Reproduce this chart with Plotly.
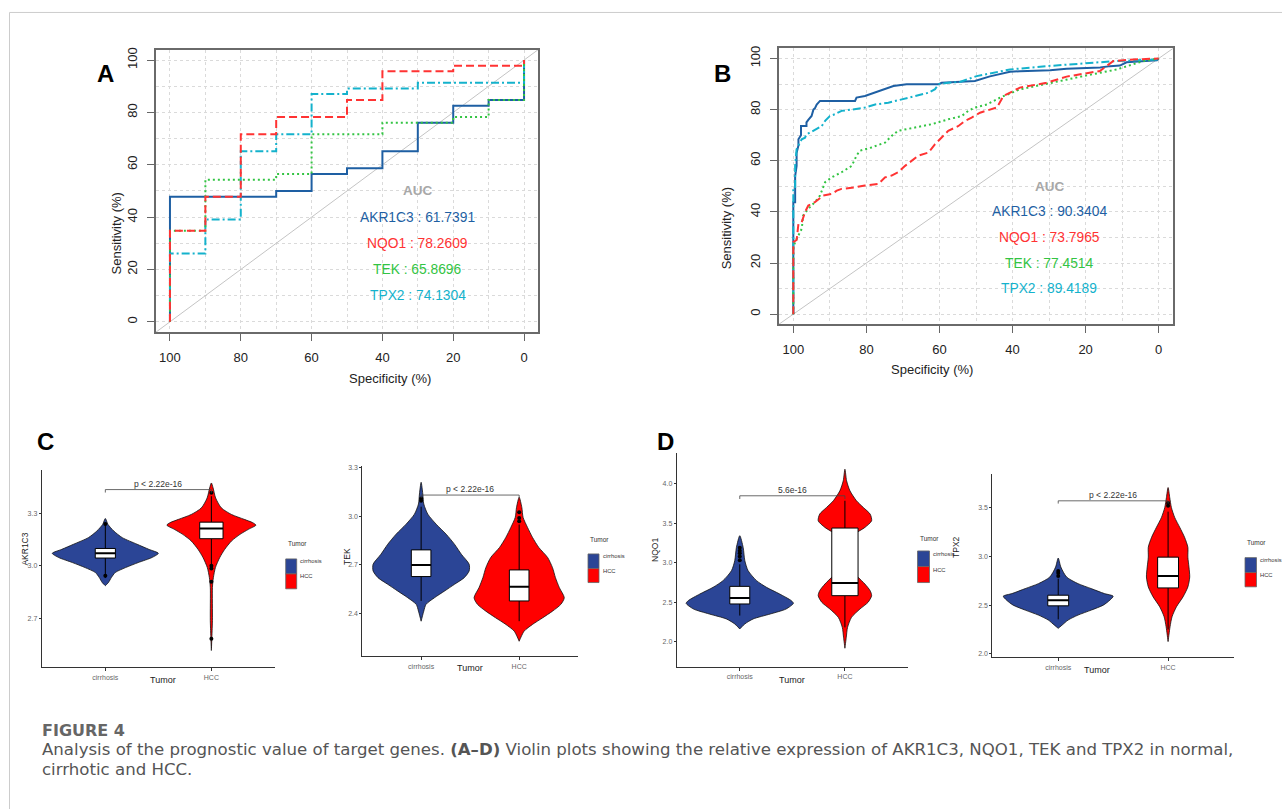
import plotly.graph_objects as go

W, H = 1282, 809

# ---------------- data ----------------
genes = ["AKR1C3", "NQO1", "TEK", "TPX2"]
gene_colors = ["#1E5FA3", "#FF3333", "#33C443", "#14B2CC"]
gene_dash = ["solid", "8px,4px", "2px,3px", "8px,3px,2px,3px"]
a_auc = ["61.7391", "78.2609", "65.8696", "74.1304"]
b_auc = ["90.3404", "73.7965", "77.4514", "89.4189"]

# Panel A (stepped ROC, specificity %, sensitivity %)
a_akr_spec = [100, 100, 70, 60, 50, 40, 30, 20, 10, 0]
a_akr_sens = [0, 47.8, 50.0, 56.5, 58.7, 65.2, 76.1, 82.6, 84.8, 100]
a_nqo_spec = [100, 100, 90, 80, 70, 50, 40, 20, 0]
a_nqo_sens = [0, 34.8, 47.8, 71.7, 78.3, 84.8, 95.7, 97.8, 100]
a_tek_spec = [100, 100, 90, 70, 60, 40, 20, 10, 0]
a_tek_sens = [0, 34.8, 54.3, 56.5, 71.7, 76.1, 78.3, 84.8, 100]
a_tpx_spec = [100, 100, 90, 80, 70, 60, 50, 30, 0]
a_tpx_sens = [0, 26.1, 39.1, 65.2, 71.7, 87.0, 89.1, 91.3, 100]

# Panel B (ROC)
b_akr_spec = [100, 100, 99.5, 99.5, 99.1, 99.1, 98.6, 98.6, 97.9, 97.9, 96.4, 96.4, 95.9, 95.0, 94.5, 94.1, 93.6, 92.7,
              83.1, 82.7, 80.4, 77.6, 74.9, 72.6, 69.0, 60.3, 59.4, 54.4, 50.3, 46.2, 41.6, 40.7, 38, 29.7, 25.2, 16,
              13.3, 10.6, 8.8, 0.5, 0]
b_akr_sens = [0, 43.8, 43.8, 54, 58, 63, 66, 68.4, 70, 73.6, 73.6, 75, 76, 77.5, 80, 80.5, 82, 83.4,
              83.4, 84.7, 85.3, 86.6, 88, 89.2, 89.9, 89.9, 90.5, 90.8, 91.2, 93, 94.5, 94.8, 95, 95.4, 96, 96.5,
              97.0, 97.2, 98.5, 99.3, 100]
b_nqo_spec = [100, 100, 99.1, 98.6, 97.7, 96.8, 95.9, 94.1, 91.8, 89.5, 88.1, 86.8, 83.1, 80.4, 76.7, 74.9, 73.1,
              71.3, 69.4, 67.6, 65.8, 63.0, 61.2, 59.4, 57.6, 54.8, 53.0, 51.2, 48.9, 44.3, 42.5, 38, 30.7, 25.2,
              16.1, 12.4, 6.9, 0]
b_nqo_sens = [0, 28.2, 29, 35.3, 36, 39.9, 42.5, 43.8, 46.4, 47, 48.3, 49, 49.6, 50.3, 50.9, 53.5, 54.2,
              55.5, 58, 60, 62, 63.2, 66.5, 69.1, 71.7, 73.6, 75.6, 76.9, 78.8, 80.8, 85.3, 88.6, 90.5, 92.9,
              95.1, 99.0, 99.6, 100]
b_tek_spec = [100, 100, 99.5, 98.6, 97.7, 97.3, 95.9, 94.1, 92.7, 91.3, 89.5, 86.8, 84.0, 82.7, 81.8, 78.6, 74.9,
              73.1, 71.3, 66.7, 62.1, 57.6, 53.9, 52.1, 50.3, 47, 43.4, 38, 29.7, 20.6, 11.5, 4.2, 0]
b_tek_sens = [0, 25.6, 28.2, 30.8, 33.4, 38.6, 41.2, 43.8, 46.4, 51.6, 53.5, 55.5, 58, 62, 63.9, 65.2, 67.1,
              69.7, 71.7, 73, 74.3, 76.2, 77.5, 79.5, 80.8, 82, 84.7, 87.9, 90.5, 93.1, 95.7, 99, 100]
b_tpx_spec = [100, 100, 99.5, 99.5, 99.1, 98.6, 97.7, 96.8, 96.4, 95.0, 93.6, 92.2, 91.3, 90.0, 88.6, 86.8, 84.0,
              80.4, 77.6, 74.0, 70.3, 66.7, 63.0, 61.2, 60.3, 57.6, 54.4, 49.8, 40.7, 30.6, 19.7, 12.4, 0.5, 0]
b_tpx_sens = [0, 49, 49, 58, 64.5, 66, 68.4, 69, 70.4, 71.3, 72.3, 73.6, 75.6, 77.5, 78.2, 79.5, 80,
              80.8, 82, 82.7, 84, 85.3, 86.6, 88, 89.9, 90.5, 90.8, 93.1, 95.7, 97.0, 98.0, 98.9, 99.6, 100]

# Violin panels: density profiles (expression level, half width), box stats, outliers
groups = ["cirrhosis", "HCC"]
group_colors = ["#2B4596", "#FF0000"]

c1_cir_lvl = [3.272, 3.238, 3.200, 3.162, 3.124, 3.095, 3.072, 3.048, 3.019, 2.990, 2.962, 2.933, 2.905, 2.886]
c1_cir_hw = [0, 0.025, 0.08, 0.16, 0.30, 0.41, 0.50, 0.44, 0.31, 0.19, 0.094, 0.057, 0.03, 0]
c1_hcc_lvl = [3.476, 3.448, 3.39, 3.333, 3.295, 3.267, 3.248, 3.234, 3.21, 3.181, 3.143, 3.095, 3.048, 2.99,
              2.933, 2.876, 2.686, 2.514]
c1_hcc_hw = [0, 0.016, 0.04, 0.094, 0.19, 0.31, 0.39, 0.42, 0.35, 0.27, 0.19, 0.126, 0.079, 0.038, 0.019, 0.01,
             0.01, 0]
c1_q1 = [3.045, 3.156]
c1_med = [3.072, 3.215]
c1_q3 = [3.100, 3.251]
c1_lo = [2.93, 3.01]
c1_hi = [3.25, 3.40]
c1_out_cir = [3.24, 2.943]
c1_out_hcc = [3.42, 3.0, 2.985, 2.909, 2.581]

c2_cir_lvl = [3.211, 3.139, 3.077, 3.014, 2.952, 2.89, 2.828, 2.766, 2.704, 2.663, 2.621, 2.58, 2.539, 2.497,
              2.456, 2.414, 2.352]
c2_cir_hw = [0, 0.017, 0.027, 0.068, 0.153, 0.255, 0.34, 0.41, 0.49, 0.49, 0.44, 0.34, 0.24, 0.136, 0.05, 0.027, 0]
c2_hcc_lvl = [3.118, 3.056, 2.994, 2.932, 2.87, 2.808, 2.746, 2.683, 2.621, 2.559, 2.497, 2.456, 2.414, 2.373,
              2.332, 2.29, 2.228]
c2_hcc_hw = [0, 0.027, 0.04, 0.085, 0.136, 0.20, 0.29, 0.34, 0.37, 0.41, 0.46, 0.425, 0.34, 0.24, 0.136, 0.05, 0]
c2_q1 = [2.628, 2.477]
c2_med = [2.700, 2.565]
c2_q3 = [2.793, 2.669]
c2_lo = [2.477, 2.352]
c2_hi = [3.06, 2.95]
c2_out_cir = [3.097, 3.11]
c2_out_hcc = [2.97, 2.99, 3.025]

d1_cir_lvl = [3.342, 3.194, 3.025, 2.899, 2.772, 2.688, 2.603, 2.519, 2.485, 2.413, 2.35, 2.287, 2.224, 2.16]
d1_cir_hw = [0, 0.032, 0.048, 0.079, 0.16, 0.254, 0.38, 0.49, 0.51, 0.44, 0.29, 0.127, 0.048, 0]
d1_hcc_lvl = [4.185, 4.038, 3.911, 3.785, 3.7, 3.616, 3.531, 3.447, 3.363, 3.236, 3.11, 2.941, 2.814, 2.73,
              2.645, 2.582, 2.498, 2.413, 2.308, 2.181, 2.055, 1.916]
d1_hcc_hw = [0, 0.016, 0.048, 0.11, 0.175, 0.24, 0.254, 0.19, 0.095, 0.038, 0.025, 0.048, 0.127, 0.19, 0.24,
             0.254, 0.22, 0.143, 0.063, 0.025, 0.013, 0]
d1_q1 = [2.477, 2.582]
d1_med = [2.553, 2.743]
d1_q3 = [2.700, 3.439]
d1_lo = [2.33, 2.18]
d1_hi = [2.98, 3.785]
d1_out_cir = [3.03, 3.08, 3.12, 3.15, 3.19]
d1_out_hcc = []

d2_cir_lvl = [2.983, 2.891, 2.789, 2.721, 2.67, 2.619, 2.592, 2.551, 2.5, 2.449, 2.398, 2.347, 2.296, 2.262]
d2_cir_hw = [0, 0.024, 0.076, 0.18, 0.30, 0.42, 0.50, 0.47, 0.41, 0.30, 0.18, 0.09, 0.036, 0]
d2_hcc_lvl = [3.707, 3.605, 3.503, 3.401, 3.299, 3.197, 3.095, 2.993, 2.891, 2.789, 2.687, 2.585, 2.483, 2.381,
              2.279, 2.126]
d2_hcc_hw = [0, 0.015, 0.03, 0.06, 0.106, 0.15, 0.18, 0.18, 0.19, 0.197, 0.18, 0.136, 0.076, 0.036, 0.018, 0]
d2_q1 = [2.493, 2.677]
d2_med = [2.551, 2.799]
d2_q3 = [2.602, 2.993]
d2_lo = [2.354, 2.25]
d2_hi = [2.772, 3.46]
d2_out_cir = [2.80, 2.83, 2.85]
d2_out_hcc = [3.52, 3.55]

violin_genes = ["AKR1C3", "TEK", "NQO1", "TPX2"]
p_labels = ["p < 2.22e-16", "p < 2.22e-16", "5.6e-16", "p < 2.22e-16"]
bracket_y = [3.438, 3.132, 3.848, 3.571]
y_ticks = [[2.7, 3.0, 3.3], [2.4, 2.7, 3.0, 3.3], [2.0, 2.5, 3.0, 3.5, 4.0], [2.0, 2.5, 3.0, 3.5]]

caption_head = "FIGURE 4"
caption_line1 = ("Analysis of the prognostic value of target genes. <b>(A–D)</b> Violin plots showing the "
                 "relative expression of AKR1C3, NQO1, TEK and TPX2 in normal,")
caption_line2 = "cirrhotic and HCC."

# ---------------- layout helpers ----------------
def fx(px):
    return px / W

def fy(py):
    return 1 - py / H

FONT = "Liberation Sans, Arial, sans-serif"
fig = go.Figure()
annotations = []
shapes = []

# ---------- ROC panels ----------
roc_panels = [
    dict(xa="x", ya="y", xdom=[fx(155.8), fx(538.2)], ydom=[fy(330.5), fy(46.8)],
         data=[(a_akr_spec, a_akr_sens), (a_nqo_spec, a_nqo_sens), (a_tek_spec, a_tek_sens), (a_tpx_spec, a_tpx_sens)],
         auc=a_auc, shape="hv", auc_y=[50, 40, 30, 20, 10]),
    dict(xa="x2", ya="y2", xdom=[fx(778.7), fx(1173.3)], ydom=[fy(322.6), fy(45.4)],
         data=[(b_akr_spec, b_akr_sens), (b_nqo_spec, b_nqo_sens), (b_tek_spec, b_tek_sens), (b_tpx_spec, b_tpx_sens)],
         auc=b_auc, shape="linear", auc_y=[50, 40, 30, 20, 10]),
]

for i, p in enumerate(roc_panels):
    fig.add_trace(go.Scatter(x=[104, -4], y=[-4, 104], mode="lines", xaxis=p["xa"], yaxis=p["ya"],
                             line=dict(color="#C4C4C4", width=1), showlegend=False, hoverinfo="skip"))
    order = [0, 3, 2, 1]
    for g in order:
        sx, sy = p["data"][g]
        fig.add_trace(go.Scatter(x=sx, y=sy, mode="lines", xaxis=p["xa"], yaxis=p["ya"],
                                 line=dict(color=gene_colors[g], width=2, dash=gene_dash[g], shape=p["shape"]),
                                 showlegend=False))
    annotations.append(dict(text="<b>AUC</b>", x=30, y=p["auc_y"][0], xref=p["xa"], yref=p["ya"],
                            showarrow=False, font=dict(family=FONT, size=13.5, color="#A8A8A8")))
    for g in range(4):
        annotations.append(dict(text=f"{genes[g]} : {p['auc'][g]}", x=30, y=p["auc_y"][g + 1],
                                xref=p["xa"], yref=p["ya"], showarrow=False,
                                font=dict(family=FONT, size=13.8, color=gene_colors[g])))
    axis_common = dict(
        tickvals=[0, 20, 40, 60, 80, 100], ticks="outside", ticklen=7, tickwidth=1.3, tickcolor="#666",
        showline=True, linecolor="#6A6A6A", linewidth=1.6, mirror=True, zeroline=False,
        showgrid=True, gridcolor="#DADADA", griddash="dot", gridwidth=1,
        minor=dict(dtick=10, tick0=0, showgrid=True, gridcolor="#DADADA", griddash="dot", gridwidth=1),
        tickfont=dict(family=FONT, size=13, color="#222"),
    )
    xkey = "xaxis" if p["xa"] == "x" else "xaxis2"
    ykey = "yaxis" if p["ya"] == "y" else "yaxis2"
    fig.update_layout(**{
        xkey: dict(domain=p["xdom"], range=[104, -4], anchor=p["ya"], ticklabelstandoff=5, **axis_common),
        ykey: dict(domain=p["ydom"], range=[-4, 104], anchor=p["xa"], tickangle=-90, ticklabelstandoff=5,
                   **axis_common),
    })

# ROC axis titles and panel letters
for txt, x, y, ang in [("Sensitivity (%)", 106.7, 188, -90), ("Specificity (%)", 347, 376.5, 0),
                       ("Sensitivity (%)", 726.7, 183.3, -90), ("Specificity (%)", 975, 367.7, 0)]:
    annotations.append(dict(text=txt, x=fx(x), y=fy(y), xref="paper", yref="paper", showarrow=False,
                            textangle=ang, font=dict(family=FONT, size=13, color="#222")))
for txt, x, y in [("A", 95, 55), ("B", 722, 55), ("C", 35, 440), ("D", 665, 440)]:
    annotations.append(dict(text=f"<b>{txt}</b>", x=fx(x), y=fy(y), xref="paper", yref="paper",
                            showarrow=False, font=dict(family=FONT, size=24, color="#000")))

# ---------- violin panels ----------
vpanels = [
    dict(n=3, xdom=[fx(41.7), fx(275)], ydom=[fy(666.7), fy(468.3)], yr=[2.418, 3.553],
         prof=[(c1_cir_lvl, c1_cir_hw), (c1_hcc_lvl, c1_hcc_hw)], q1=c1_q1, med=c1_med, q3=c1_q3, lo=c1_lo,
         hi=c1_hi, outs=[c1_out_cir, c1_out_hcc], bw=[0.19, 0.22],
         ytitle=(18.5, 566.7), xtitle=(148, 687), leg=(285.7, 296.7, 558, 573, 588, 547.7)),
    dict(n=4, xdom=[fx(362.3), fx(578)], ydom=[fy(655.7), fy(465)], yr=[2.135, 3.31],
         prof=[(c2_cir_lvl, c2_cir_hw), (c2_hcc_lvl, c2_hcc_hw)], q1=c2_q1, med=c2_med, q3=c2_q3, lo=c2_lo,
         hi=c2_hi, outs=[c2_out_cir, c2_out_hcc], bw=[0.2, 0.2],
         ytitle=(340.5, 566), xtitle=(470, 675), leg=(588, 599, 553, 567.7, 581.7, 544)),
    dict(n=5, xdom=[fx(676.7), fx(908)], ydom=[fy(666), fy(451.7)], yr=[1.684, 4.39],
         prof=[(d1_cir_lvl, d1_cir_hw), (d1_hcc_lvl, d1_hcc_hw)], q1=d1_q1, med=d1_med, q3=d1_q3, lo=d1_lo,
         hi=d1_hi, outs=[d1_out_cir, d1_out_hcc], bw=[0.19, 0.25],
         ytitle=(655, 563), xtitle=(791.7, 686.7), leg=(917.5, 929.5, 550, 565.7, 581.7, 537)),
    dict(n=6, xdom=[fx(992.3), fx(1234)], ydom=[fy(656.7), fy(472.7)], yr=[1.965, 3.847],
         prof=[(d2_cir_lvl, d2_cir_hw), (d2_hcc_lvl, d2_hcc_hw)], q1=d2_q1, med=d2_med, q3=d2_q3, lo=d2_lo,
         hi=d2_hi, outs=[d2_out_cir, d2_out_hcc], bw=[0.19, 0.19],
         ytitle=(963, 559), xtitle=(1111.7, 676.7), leg=(1245, 1256.5, 556.7, 571.7, 586, 547)),
]

for k, vp in enumerate(vpanels):
    xa, ya = f"x{vp['n']}", f"y{vp['n']}"
    for gi in range(2):
        lvl, hw = vp["prof"][gi]
        c = gi + 1
        xs = [c + w for w in hw] + [c - w for w in reversed(hw)]
        ys = list(lvl) + list(reversed(lvl))
        fig.add_trace(go.Scatter(x=xs, y=ys, mode="lines", fill="toself", fillcolor=group_colors[gi],
                                 line=dict(color="#111", width=0.8, shape="spline", smoothing=0.7),
                                 xaxis=xa, yaxis=ya, showlegend=False, hoverinfo="skip"))
    for gi in range(2):
        c = gi + 1
        half = vp["bw"][gi] / 2
        q1, q3, med = vp["q1"][gi], vp["q3"][gi], vp["med"][gi]
        fig.add_trace(go.Scatter(x=[c, c, None, c, c], y=[vp["lo"][gi], q1, None, q3, vp["hi"][gi]],
                                 mode="lines", line=dict(color="#000", width=1), xaxis=xa, yaxis=ya,
                                 showlegend=False, hoverinfo="skip"))
        fig.add_trace(go.Scatter(x=[c - half, c + half, c + half, c - half, c - half], y=[q1, q1, q3, q3, q1],
                                 mode="lines", fill="toself", fillcolor="white",
                                 line=dict(color="#000", width=1), xaxis=xa, yaxis=ya, showlegend=False,
                                 hoverinfo="skip"))
        fig.add_trace(go.Scatter(x=[c - half, c + half], y=[med, med], mode="lines",
                                 line=dict(color="#000", width=2), xaxis=xa, yaxis=ya, showlegend=False))
        if vp["outs"][gi]:
            fig.add_trace(go.Scatter(x=[c] * len(vp["outs"][gi]), y=vp["outs"][gi], mode="markers",
                                     marker=dict(color="#000", size=4), xaxis=xa, yaxis=ya, showlegend=False))
    by = bracket_y[k]
    d = (vp["yr"][1] - vp["yr"][0]) * 0.015
    fig.add_trace(go.Scatter(x=[1, 1, 2, 2], y=[by - d, by, by, by - d], mode="lines",
                             line=dict(color="#444", width=0.8), xaxis=xa, yaxis=ya, showlegend=False))
    annotations.append(dict(text=p_labels[k], x=1.5, y=by, xref=xa, yref=ya, yanchor="bottom", yshift=-1,
                            showarrow=False, font=dict(family=FONT, size=8.5, color="#333")))
    fig.update_layout(**{
        f"xaxis{vp['n']}": dict(domain=vp["xdom"], range=[0.4, 2.6], anchor=ya, tickvals=[1, 2],
                                ticktext=groups, showline=True, linecolor="#333", linewidth=1,
                                ticks="outside", ticklen=3, tickcolor="#333", showgrid=False, zeroline=False,
                                tickfont=dict(family=FONT, size=7, color="#666")),
        f"yaxis{vp['n']}": dict(domain=vp["ydom"], range=vp["yr"], anchor=xa, tickvals=y_ticks[k],
                                tickformat=".1f", showline=True, linecolor="#333", linewidth=1,
                                ticks="outside", ticklen=2, tickcolor="#333", showgrid=False, zeroline=False,
                                ticklabelstandoff=0,
                                tickfont=dict(family=FONT, size=7, color="#666")),
    })
    tx, ty = vp["ytitle"]
    annotations.append(dict(text=violin_genes[k], x=fx(tx), y=fy(ty), xref="paper", yref="paper",
                            showarrow=False, textangle=-90, font=dict(family=FONT, size=8.5, color="#222")))
    tx, ty = vp["xtitle"]
    annotations.append(dict(text="Tumor", x=fx(tx), y=fy(ty), xref="paper", yref="paper",
                            showarrow=False, font=dict(family=FONT, size=9, color="#222")))
    x0, x1, yb0, yb1, yb2, yt = vp["leg"]
    shapes.append(dict(type="rect", xref="paper", yref="paper", x0=fx(x0), x1=fx(x1), y0=fy(yb1), y1=fy(yb0),
                       fillcolor=group_colors[0], line=dict(color="#666", width=0.8)))
    shapes.append(dict(type="rect", xref="paper", yref="paper", x0=fx(x0), x1=fx(x1), y0=fy(yb2), y1=fy(yb1),
                       fillcolor=group_colors[1], line=dict(color="#666", width=0.8)))
    annotations.append(dict(text="Tumor", x=fx(x0), y=fy(yt), xref="paper", yref="paper", xanchor="left",
                            showarrow=False, font=dict(family=FONT, size=6.5, color="#333")))
    for gi, (ya0, ya1) in enumerate([(yb0, yb1), (yb1, yb2)]):
        annotations.append(dict(text=groups[gi], x=fx(x1 + 1.5), y=fy((ya0 + ya1) / 2), xref="paper",
                                yref="paper", xanchor="left", showarrow=False,
                                font=dict(family=FONT, size=5.8, color="#333")))

# ---------- caption and frame ----------
CAP_FONT = "DejaVu Sans, Verdana, sans-serif"
annotations.append(dict(text=f"<b>{caption_head}</b>", x=fx(40), y=fy(730), xref="paper", yref="paper",
                        xanchor="left", yanchor="middle", showarrow=False,
                        font=dict(family=CAP_FONT, size=16, color="#666")))
annotations.append(dict(text=caption_line1, x=fx(40), y=fy(749.6), xref="paper", yref="paper",
                        xanchor="left", yanchor="middle", showarrow=False,
                        font=dict(family=CAP_FONT, size=16.6, color="#555")))
annotations.append(dict(text=caption_line2, x=fx(40), y=fy(769.5), xref="paper", yref="paper",
                        xanchor="left", yanchor="middle", showarrow=False,
                        font=dict(family=CAP_FONT, size=16.6, color="#555")))
shapes.append(dict(type="line", xref="paper", yref="paper", x0=fx(9.5), x1=1, y0=fy(9.5), y1=fy(9.5),
                   line=dict(color="#CCCCCC", width=1)))
shapes.append(dict(type="line", xref="paper", yref="paper", x0=fx(9.5), x1=fx(9.5), y0=0, y1=fy(9.5),
                   line=dict(color="#CCCCCC", width=1)))

fig.update_layout(width=W, height=H, margin=dict(l=0, r=0, t=0, b=0), paper_bgcolor="white",
                  plot_bgcolor="white", showlegend=False, annotations=annotations, shapes=shapes)

fig.write_html("out.html", config={"displayModeBar": False},
               post_script="document.body.style.margin='0';")
